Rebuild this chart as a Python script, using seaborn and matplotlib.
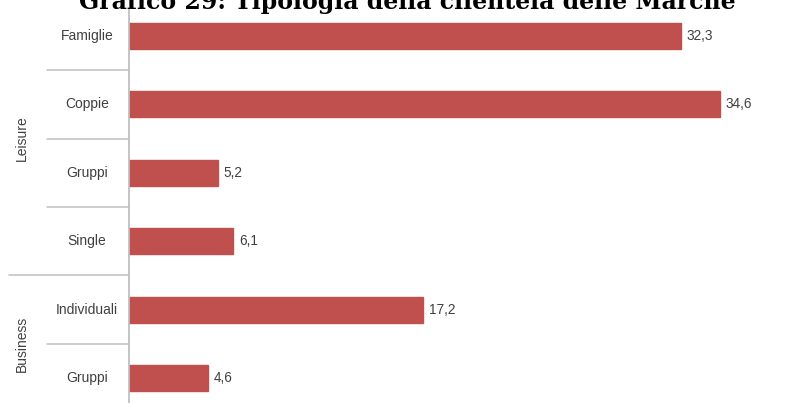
import pandas as pd
import numpy as np
import matplotlib.pyplot as plt
import matplotlib.transforms as mtransforms
import seaborn as sns

# Dati del grafico
gruppi = ["Leisure", "Leisure", "Leisure", "Leisure", "Business", "Business"]
voci = ["Famiglie", "Coppie", "Gruppi", "Single", "Individuali", "Gruppi"]
valori = [32.3, 34.6, 5.2, 6.1, 17.2, 4.6]
etichette = ["32,3", "34,6", "5,2", "6,1", "17,2", "4,6"]

df = pd.DataFrame({
    "chiave": [f"{g}|{v}" for g, v in zip(gruppi, voci)],
    "voce": voci,
    "valore": valori,
})

sns.set_style("white")
plt.rcParams["font.family"] = ["Liberation Sans", "DejaVu Sans"]

W, H = 805, 403
fig = plt.figure(figsize=(W / 100, H / 100), dpi=100)
# assi: da x=129 px al bordo destro, da y=10 px al fondo
ax = fig.add_axes([129 / W, 0, 1 - 129 / W, 1 - 10 / H])

sns.barplot(data=df, x="valore", y="chiave", orient="h", width=0.38,
            color="#C0504D", saturation=1, edgecolor="#C0504D", ax=ax)

ax.set_xlim(0, (W - 129) / 17.08)
ax.set_ylim(5.365, -0.38)
ax.set_xlabel("")
ax.set_ylabel("")
ax.set_xticks([])
ax.set_yticks([])
for s in ["top", "right", "bottom"]:
    ax.spines[s].set_visible(False)
ax.spines["left"].set_color("#BFBFBF")
ax.spines["left"].set_linewidth(1.3)

testo = "#404040"

# etichette dei valori
for i, (v, t) in enumerate(zip(valori, etichette)):
    ax.text(v + 0.35, i, t, va="center", ha="left", fontsize=9.8, color=testo)

# etichette di categoria e separatori a sinistra dell'asse
trans = mtransforms.blended_transform_factory(ax.transAxes, ax.transData)
ax_w = W - 129
def px(x):
    return (x - 129) / ax_w

for i, v in enumerate(voci):
    ax.text(px(87), i, v, ha="center", va="center", fontsize=10,
            color=testo, transform=trans, clip_on=False)

for y in [0.5, 1.5, 2.5, 4.5]:
    ax.plot([px(47), 0], [y, y], color="#BFBFBF", lw=1.1,
            transform=trans, clip_on=False)
ax.plot([px(9), 0], [3.5, 3.5], color="#BFBFBF", lw=1.1,
        transform=trans, clip_on=False)

ax.text(px(22), 1.5, "Leisure", rotation=90, ha="center", va="center",
        fontsize=10, color=testo, transform=trans, clip_on=False)
ax.text(px(22), 4.5, "Business", rotation=90, ha="center", va="center",
        fontsize=10, color=testo, transform=trans, clip_on=False)

# titolo (tagliato in alto come nell'originale)
fig.text(407 / W, 1 - 9 / H, "Grafico 29: Tipologia della clientela delle Marche",
         ha="center", va="baseline", fontsize=17, fontweight="bold",
         family=["DejaVu Serif"], color="black")

fig.savefig("out.png", dpi=100)
